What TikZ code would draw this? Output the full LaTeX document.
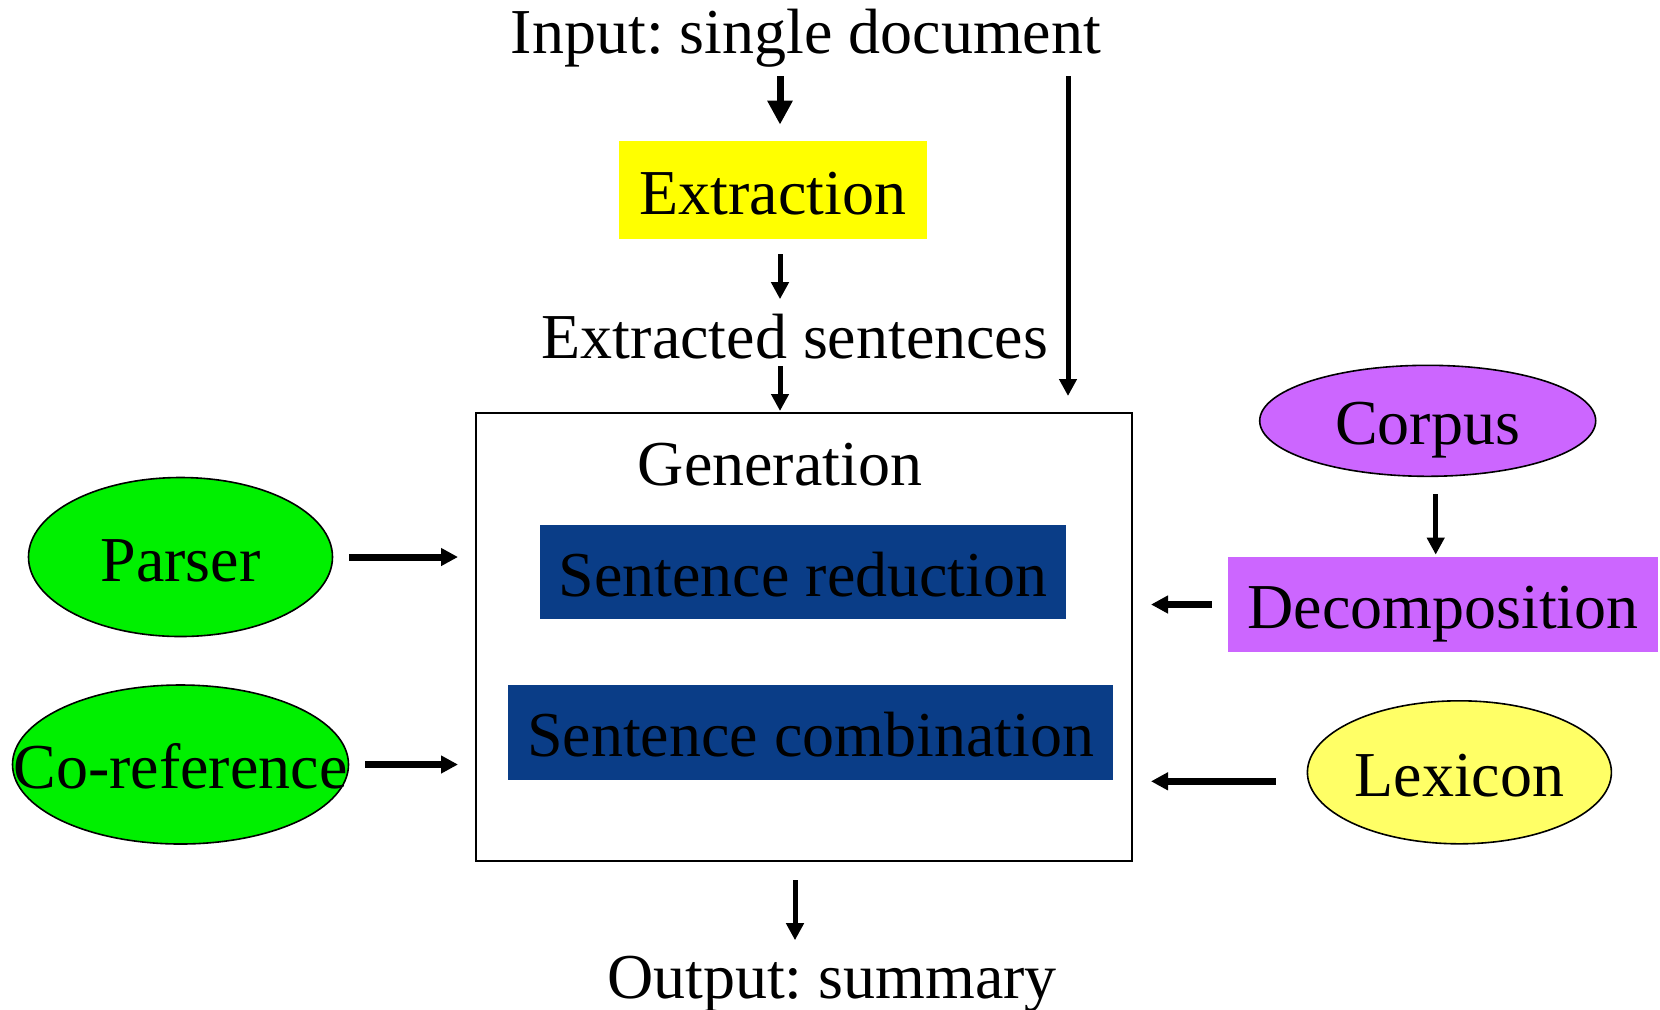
\documentclass[tikz,border=0pt]{standalone}
\usepackage{fontspec}
\setmainfont{Liberation Serif}
\usetikzlibrary{arrows.meta,shapes.geometric}
\definecolor{extryellow}{HTML}{FFFF00}
\definecolor{genblue}{HTML}{0A3D87}
\definecolor{toolgreen}{HTML}{00F000}
\definecolor{resviolet}{HTML}{CC66FF}
\definecolor{lexyellow}{HTML}{FFFF66}
\frenchspacing
\begin{document}
\begin{tikzpicture}[x=0.5pt,y=-0.5pt,
  txt/.style={inner sep=0pt,font=\fontsize{32}{38}\selectfont},
  lbl/.style={txt,text height=24pt,text depth=0pt},
  stagebox/.style={lbl,rectangle,draw=none},
  oval/.style={ellipse,draw=black,line width=0.8pt,inner sep=0pt},
  arrthin/.style={-{Triangle[length=8.5pt,width=8.5pt]},line width=2.5pt},
  arrthick/.style={-{Triangle[length=8.5pt,width=8.5pt]},line width=3.5pt},
  arrbig/.style={-{Triangle[length=12pt,width=12pt]},line width=3.5pt}]
\useasboundingbox (0,0) rectangle (1660,1009);

% pipeline text and stages
\node[txt,anchor=base] (inp) at (806,53) {Input: single document};
\node[stagebox,fill=extryellow,minimum width=154pt,minimum height=49pt] (extr) at (773,190) {Extraction};
\node[txt,anchor=base] (sent) at (795,358) {Extracted sentences};
\node[draw=black,line width=1pt,minimum width=328pt,minimum height=224pt,inner sep=0pt] (gen) at (804,637) {};
\node[txt,anchor=base] (gtitle) at (780,485) {Generation};
\node[stagebox,fill=genblue,minimum width=263pt,minimum height=47pt] (sred) at (803,572) {Sentence reduction};
\node[stagebox,fill=genblue,minimum width=302.5pt,minimum height=47.5pt] (scomb) at (810.5,732.5) {Sentence combination};
\node[txt,anchor=base] (out) at (832,998) {Output: summary};

% resources on the left
\node[oval,fill=toolgreen,minimum width=152pt,minimum height=79.5pt,label={[lbl]center:Parser}] (parser) at (180.5,557) {};
\node[oval,fill=toolgreen,minimum width=168pt,minimum height=79.5pt,label={[lbl]center:Co-reference}] (coref) at (180.5,764.5) {};

% resources on the right
\node[oval,fill=resviolet,minimum width=168pt,minimum height=55.5pt,label={[lbl]center:Corpus}] (corpus) at (1427.7,420.8) {};
\node[stagebox,fill=resviolet,minimum width=215pt,minimum height=47.5pt] (decomp) at (1443,604.5) {Decomposition};
\node[oval,fill=lexyellow,minimum width=152pt,minimum height=71.5pt,label={[lbl]center:Lexicon}] (lex) at (1459.4,772.3) {};

% main flow
\draw[arrbig,shorten <=4.5pt,shorten >=8pt] ([xshift=-13pt]inp.south) coordinate (a1) -- (extr.north -| a1);
\draw[arrthin,shorten <=7.5pt,shorten >=7pt] ([xshift=3.5pt]extr.south) coordinate (a2) -- (sent.north -| a2);
\draw[arrthin,shorten <=3.5pt,shorten >=0.5pt] ([xshift=-7.5pt]sent.south) coordinate (a3) -- (gen.north -| a3);
\draw[arrthin,shorten <=4.5pt,shorten >=8pt] ([xshift=131pt]inp.south) coordinate (a4) -- (gen.north -| a4);
\draw[arrthin,shorten <=9pt,shorten >=7.5pt] ([xshift=-4.5pt]gen.south) coordinate (a5) -- (out.north -| a5);

% inputs into generation
\draw[arrthick,shorten <=8pt,shorten >=8.5pt] (parser.east) -- (parser.east -| gen.west);
\draw[arrthick,shorten <=8pt,shorten >=8.5pt] (coref.east) -- (coref.east -| gen.west);
\draw[arrthin,shorten <=8.5pt,shorten >=1pt] ([xshift=4pt]corpus.south) coordinate (a6) -- (decomp.north -| a6);
\draw[arrthick,shorten <=8pt,shorten >=9pt] (decomp.west) -- (decomp.west -| gen.east);
\draw[arrthick,shorten <=15.5pt,shorten >=9pt] ([yshift=-4.5pt]lex.west) coordinate (a7) -- (a7 -| gen.east);
\end{tikzpicture}
\end{document}
